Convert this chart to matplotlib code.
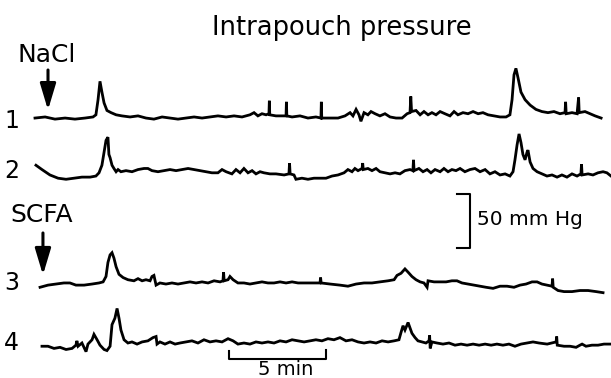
import matplotlib
matplotlib.use("Agg")
import matplotlib.pyplot as plt
import numpy as np

plt.rcParams['font.family'] = ['DejaVu Sans']

# ---- data: time (min) and intrapouch pressure (mm Hg, relative to each trace's baseline)
t1 = [0.00,0.52,1.03,1.55,2.06,2.58,2.99,3.14,3.25,3.35,3.45,3.56,3.71,3.92,4.18,4.48,4.90,5.31,5.72,6.13,
      6.55,6.96,7.37,7.78,8.20,8.61,9.02,9.43,9.85,10.26,10.67,11.08,11.29,11.49,11.70,11.91,12.06,12.08,12.10,
      12.42,12.73,12.94,12.96,12.98,13.25,13.66,14.07,14.48,14.74,14.76,14.78,15.21,15.62,15.98,16.24,16.39,
      16.55,16.70,16.80,16.96,17.16,17.32,17.53,17.78,18.04,18.30,18.61,18.92,19.18,19.33,19.37,19.41,19.64,
      19.85,20.05,20.26,20.46,20.67,20.88,21.13,21.39,21.60,21.80,22.06,22.32,22.58,22.84,23.09,23.35,23.66,
      23.97,24.28,24.48,24.59,24.69,24.79,24.90,25.05,25.26,25.52,25.82,26.13,26.44,26.75,27.06,27.32,27.35,
      27.38,27.68,27.94,28.02,28.05,28.35,28.61,28.87,29.18]
p1 = [0,1,-1,0,-1,0,1,3,17,34,24,14,7,5,3,2,1,2,0,-1,
      1,0,-1,0,1,0,1,2,1,2,1,3,5,2,4,3,4,16,3,
      2,2,2,15,2,1,2,0,1,0,15,0,0,0,2,5,2,
      8,3,-3,5,3,6,4,2,4,1,0,0,4,5,20,6,7,
      3,6,3,5,3,6,4,2,6,3,5,4,6,4,5,3,2,
      1,1,3,17,40,46,37,24,17,12,8,6,5,6,4,5,15,
      4,5,4,19,5,6,4,2,0]

t2 = [0.05,0.36,0.77,1.19,1.60,2.01,2.42,2.84,3.14,3.30,3.45,3.56,3.66,3.76,3.81,3.87,3.97,4.07,4.18,4.28,
      4.43,4.69,5.00,5.31,5.62,5.82,6.03,6.34,6.65,6.96,7.27,7.58,7.89,8.20,8.51,8.81,9.12,9.43,9.64,9.85,
      10.15,10.36,10.57,10.77,10.98,11.19,11.39,11.60,11.80,12.11,12.42,12.84,13.09,13.12,13.15,13.35,13.45,
      13.76,14.07,14.38,14.69,15.00,15.31,15.62,15.93,16.13,16.34,16.49,16.65,16.86,16.89,16.92,17.16,17.37,
      17.58,17.78,18.04,18.30,18.56,18.81,19.07,19.33,19.48,19.51,19.54,19.79,20.00,20.21,20.41,20.62,20.88,
      21.08,21.29,21.49,21.70,21.91,22.16,22.42,22.68,22.94,23.20,23.45,23.71,23.97,24.23,24.48,24.64,24.74,
      24.85,24.95,25.05,25.15,25.26,25.36,25.41,25.52,25.67,25.88,26.13,26.39,26.65,26.91,27.16,27.42,27.68,
      27.94,28.14,28.17,28.20,28.51,28.76,29.02,29.28,29.48,29.69]
p2 = [9,5,0,-3,-4,-3,-2,-2,-1,2,9,21,32,35,19,16,9,6,3,5,
      3,4,3,5,6,6,4,3,4,5,4,5,6,5,4,3,2,2,5,3,
      1,5,2,6,2,4,1,3,2,1,1,0,1,11,1,0,-4,
      -3,-4,-3,-3,-3,-1,0,2,5,3,6,4,6,11,5,6,4,
      6,3,2,1,2,1,4,5,4,14,4,6,3,5,2,5,3,
      6,3,5,4,6,3,5,6,3,5,1,3,0,1,-1,3,14,
      28,38,30,19,14,21,23,12,6,3,1,-1,0,-2,0,-2,1,
      -1,1,10,0,1,0,2,3,2,-1]

t3 = [0.26,0.67,1.08,1.49,1.80,2.11,2.53,2.94,3.30,3.51,3.66,3.76,3.87,3.97,4.07,4.18,4.33,4.54,4.79,5.10,
      5.31,5.52,5.72,5.93,6.03,6.13,6.24,6.44,6.75,7.06,7.37,7.68,7.99,8.30,8.61,8.92,9.23,9.54,9.69,9.72,
      9.75,9.95,10.05,10.21,10.46,10.77,11.08,11.39,11.70,12.01,12.32,12.63,12.94,13.25,13.56,13.87,14.18,
      14.69,14.72,14.75,15.21,15.72,16.13,16.55,16.96,17.37,17.78,18.20,18.51,18.66,18.87,19.07,19.23,19.43,
      19.64,19.85,20.05,20.21,20.26,20.57,20.88,21.19,21.49,21.75,22.01,22.32,22.63,22.94,23.25,23.61,23.97,
      24.33,24.69,25.00,25.31,25.62,25.88,26.13,26.39,26.65,26.68,26.71,26.96,27.27,27.68,28.09,28.51,28.92,
      29.28]
p3 = [-3,-1,0,1,1,-1,-1,0,1,2,7,20,27,29,24,16,9,6,4,3,
      5,3,4,3,7,8,-1,1,0,1,0,1,2,1,2,1,3,2,3,11,
      3,4,7,4,1,1,0,1,2,1,1,2,1,2,1,1,1,
      1,6,1,0,-1,-2,0,1,1,2,3,4,8,10,14,11,7,
      4,2,1,-3,3,2,2,2,3,3,1,0,-1,-2,-3,-4,-2,
      -2,-3,-1,0,2,2,0,-1,-2,5,-3,-6,-7,-7,-6,-6,-7,
      -8]

t4 = [0.36,0.67,0.98,1.29,1.60,1.91,2.11,2.16,2.22,2.42,2.63,2.73,2.94,3.04,3.20,3.35,3.56,3.71,3.87,3.97,
      4.12,4.23,4.33,4.43,4.59,4.79,5.00,5.26,5.52,5.82,6.08,6.24,6.29,6.44,6.70,6.96,7.22,7.47,7.78,8.09,
      8.40,8.71,9.02,9.33,9.64,9.95,10.21,10.46,10.77,11.08,11.39,11.70,12.01,12.32,12.63,12.94,13.25,13.56,
      13.87,14.18,14.48,14.79,15.10,15.41,15.72,16.03,16.34,16.65,16.96,17.27,17.58,17.89,18.20,18.51,18.76,
      18.87,18.97,19.07,19.23,19.33,19.43,19.59,19.74,19.95,20.15,20.31,20.34,20.37,20.46,20.72,21.03,21.34,
      21.65,21.96,22.27,22.58,22.89,23.20,23.51,23.81,24.12,24.43,24.74,25.05,25.36,25.67,25.98,26.40,26.86,
      26.89,26.92,27.27,27.58,27.89,28.09,28.20,28.40,28.71,29.02,29.33,29.69]
p4 = [-3,-3,-5,-4,-6,-5,-2,2,-3,0,-8,-1,3,8,3,-2,-6,-7,-3,17,
      23,32,23,12,3,0,1,-1,1,2,5,6,-1,1,-1,1,-1,0,1,2,
      0,3,1,2,1,4,2,-1,0,-1,1,0,1,0,2,1,3,2,
      1,2,3,2,4,3,5,2,3,1,0,1,0,2,1,2,3,
      10,16,12,19,14,9,5,2,1,0,2,7,-5,1,0,-1,0,
      -2,-1,-2,-1,-2,-1,-2,-1,-2,-1,-3,-1,0,1,0,-1,1,
      6,-2,-3,-3,-4,-2,-1,-3,-2,-2,-1,-1]

trace_labels = ["1", "2", "3", "4"]
trace_offsets = [240.7, 188.0, 87.0, 32.4]   # layout: baseline height of each trace
time_bar = [10.0, 15.0]                      # 5 min scale bar
pressure_bar = 50                            # 50 mm Hg scale bar

# ---- figure
fig = plt.figure(figsize=(6.11, 3.78), dpi=100)
ax = fig.add_axes([0, 0, 1, 1])
ax.set_xlim(-1.804, 29.69)
ax.set_ylim(0, 350)
ax.axis('off')

for tt, pp, off in zip([t1, t2, t3, t4], [p1, p2, p3, p4], trace_offsets):
    ax.plot(tt, np.array(pp) + off, color='black', lw=2.0, solid_joinstyle='miter')

# labels
num_y = [231.5, 185.2, 81.5, 25.9]
for lab, y in zip(trace_labels, num_y):
    ax.text(-1.6, y, lab, fontsize=17, va='baseline', ha='left')

ax.text(15.82, 317.6, "Intrapouch pressure", fontsize=18.5, ha='center', va='baseline')
ax.text(-0.88, 292.6, "NaCl", fontsize=18, ha='left', va='baseline')
ax.text(-1.29, 144.4, "SCFA", fontsize=18, ha='left', va='baseline')

# arrows
for x, ytail, ytip in [(0.67, 285.2, 248.1), (0.41, 134.3, 95.4)]:
    ax.annotate('', xy=(x, ytip), xytext=(x, ytail),
                arrowprops=dict(arrowstyle='-|>,head_width=0.3,head_length=1.0',
                                mutation_scale=16, lw=2.2, color='black',
                                shrinkA=0, shrinkB=0))

# time scale bar (bracket)
ax.plot([time_bar[0], time_bar[0], time_bar[1], time_bar[1]], [25.0, 17.6, 17.6, 26.0],
        color='black', lw=1.5)
ax.text(12.9, 3.0, "5 min", fontsize=14, ha='center', va='baseline')

# pressure scale bar
pb_top = 170.4
ax.plot([21.75, 22.42, 22.42, 21.75], [pb_top, pb_top, pb_top - pressure_bar, pb_top - pressure_bar],
        color='black', lw=1.5)
ax.text(22.78, 142.1, "50 mm Hg", fontsize=14.5, ha='left', va='baseline')

fig.savefig("out.png", dpi=100)
